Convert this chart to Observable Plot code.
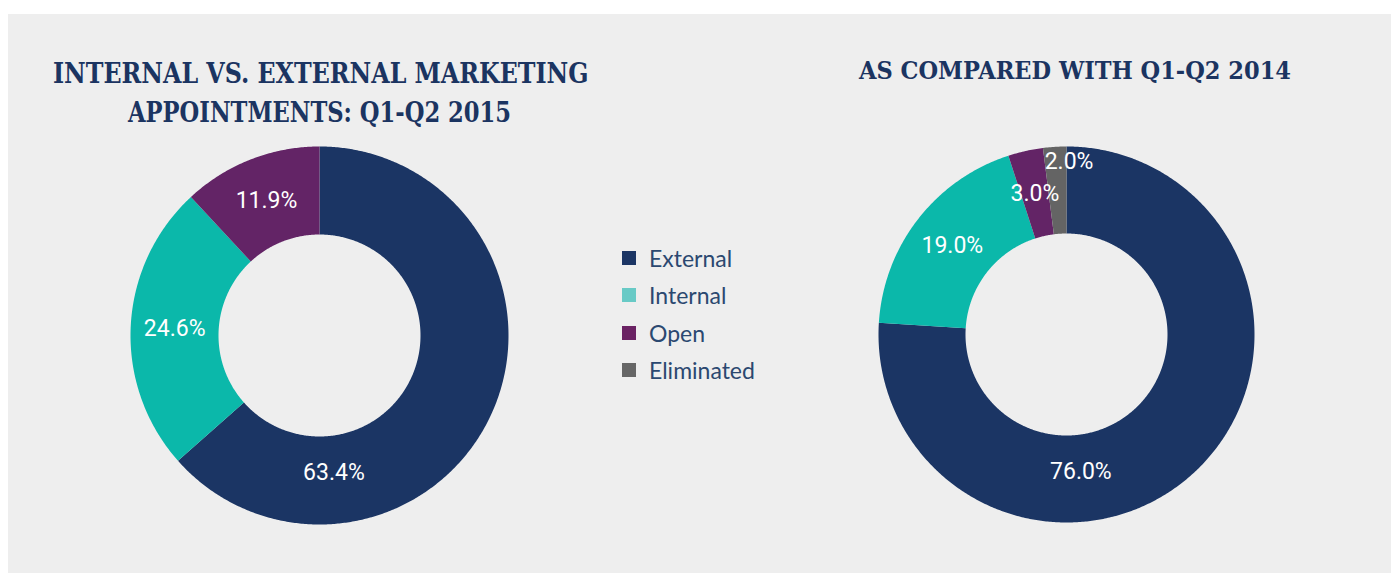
<!DOCTYPE html>
<html><head><meta charset="utf-8">
<script src="https://cdn.jsdelivr.net/npm/d3@7"></script>
<script src="https://cdn.jsdelivr.net/npm/@observablehq/plot@0.6"></script>
<style>
html,body{margin:0;padding:0;background:#fff;width:1391px;height:574px;overflow:hidden;position:relative;}
#panel{position:absolute;left:8px;top:14px;width:1383px;height:559px;background:#eeeeee;}
.title{position:absolute;white-space:nowrap;font-family:"DejaVu Serif Condensed","DejaVu Serif",serif;font-weight:bold;color:#1b3461;line-height:1;transform-origin:0 0;}
.chart{position:absolute;}
.legend-row{position:absolute;left:622px;height:24px;white-space:nowrap;font-family:Lato,"Open Sans",sans-serif;font-weight:400;font-size:23px;line-height:24px;color:#2b4870;}
.legend-row .sw{position:absolute;left:0;top:5px;width:14px;height:14px;}
.legend-row .lb{position:absolute;left:27px;top:0;}
</style></head><body>
<div id="panel"></div>
<div id="t1" class="title" style="left:52.7px;top:59.6px;font-size:28px" data-w="535.5">INTERNAL VS. EXTERNAL MARKETING</div>
<div id="t2" class="title" style="left:128px;top:99.3px;font-size:28px" data-w="383">APPOINTMENTS: Q1-Q2 2015</div>
<div id="t3" class="title" style="left:859.3px;top:59px;font-size:24px" data-w="432">AS COMPARED WITH Q1-Q2 2014</div>
<div id="legend"></div>
<div id="c1" class="chart"></div>
<div id="c2" class="chart"></div>
<script>
// ---- data ----
const categories = ["External", "Internal", "Open", "Eliminated"];
const values2015 = [63.4, 24.6, 11.9];
const values2014 = [76.0, 19.0, 3.0, 2.0];
const sliceColors = ["#1b3564", "#0bb8aa", "#632466", "#646464"];
const legendColors = ["#1b3564", "#68cac6", "#6a2263", "#666666"];

// ---- layout constants ----
const SIZE = 400;
const BIG_LABEL_ANGLE = 174; // label of the dominant slice sits near the bottom

function donut(values, R, r) {
  const total = d3.sum(values);
  const pts = [];
  const labels = [];
  let acc = 0;
  const maxV = d3.max(values);
  const rad = d => d * Math.PI / 180;
  values.forEach((v, i) => {
    const a0 = acc / total * 360, a1 = (acc + v) / total * 360;
    acc += v;
    const n = Math.max(2, Math.ceil((a1 - a0) / 0.5));
    for (let k = 0; k <= n; k++) {
      const a = rad(a0 + (a1 - a0) * k / n);
      pts.push({cat: categories[i], x: R * Math.sin(a), y: R * Math.cos(a)});
    }
    for (let k = n; k >= 0; k--) {
      const a = rad(a0 + (a1 - a0) * k / n);
      pts.push({cat: categories[i], x: r * Math.sin(a), y: r * Math.cos(a)});
    }
    const text = v.toFixed(1) + "%";
    const frac = v / total;
    if (v === maxV) {
      const rr = (R + r) / 2 - 7;
      labels.push({text, anchor: "middle", x: rr * Math.sin(rad(BIG_LABEL_ANGLE)), y: rr * Math.cos(rad(BIG_LABEL_ANGLE))});
    } else if (frac < 0.025) {
      const rr = R - 14;
      labels.push({text, anchor: "start", x: rr * Math.sin(rad(a0)), y: rr * Math.cos(rad(a0))});
    } else {
      const rr = (R + r) / 2;
      const m = rad((a0 + a1) / 2);
      labels.push({text, anchor: "middle", x: rr * Math.sin(m), y: rr * Math.cos(m)});
    }
  });
  const textOpts = {fill: "white", fontSize: 23, fontFamily: "Roboto", fontWeight: 400};
  return Plot.plot({
    width: SIZE, height: SIZE, margin: 0,
    x: {domain: [-SIZE / 2, SIZE / 2], axis: null},
    y: {domain: [-SIZE / 2, SIZE / 2], axis: null},
    color: {domain: categories, range: sliceColors},
    style: {background: "transparent", overflow: "visible"},
    marks: [
      Plot.line(pts, {x: "x", y: "y", z: "cat", fill: "cat", stroke: "none", curve: "linear-closed"}),
      Plot.text(labels.filter(d => d.anchor === "middle"), {x: "x", y: "y", text: "text", textAnchor: "middle", ...textOpts}),
      Plot.text(labels.filter(d => d.anchor === "start"), {x: "x", y: "y", text: "text", textAnchor: "start", ...textOpts})
    ]
  });
}

const c1 = document.getElementById("c1");
c1.style.left = (318.5 - SIZE / 2) + "px"; c1.style.top = (334.5 - SIZE / 2) + "px";
c1.appendChild(donut(values2015, 189, 101));
const c2 = document.getElementById("c2");
c2.style.left = (1066 - SIZE / 2) + "px"; c2.style.top = (334.3 - SIZE / 2) + "px";
c2.appendChild(donut(values2014, 188, 101));

// legend
const legend = document.getElementById("legend");
categories.forEach((c, i) => {
  const row = document.createElement("div");
  row.className = "legend-row";
  row.style.top = (246 + i * 37.3) + "px";
  row.innerHTML = `<span class="sw" style="background:${legendColors[i]}"></span><span class="lb">${c}</span>`;
  legend.appendChild(row);
});

// fit title widths
function fit() {
  document.querySelectorAll(".title").forEach(el => {
    el.style.transform = "none";
    const w = el.getBoundingClientRect().width;
    el.style.transform = `scaleX(${(+el.dataset.w) / w})`;
  });
}
fit();
if (document.fonts && document.fonts.ready) document.fonts.ready.then(fit);
</script>
</body></html>
